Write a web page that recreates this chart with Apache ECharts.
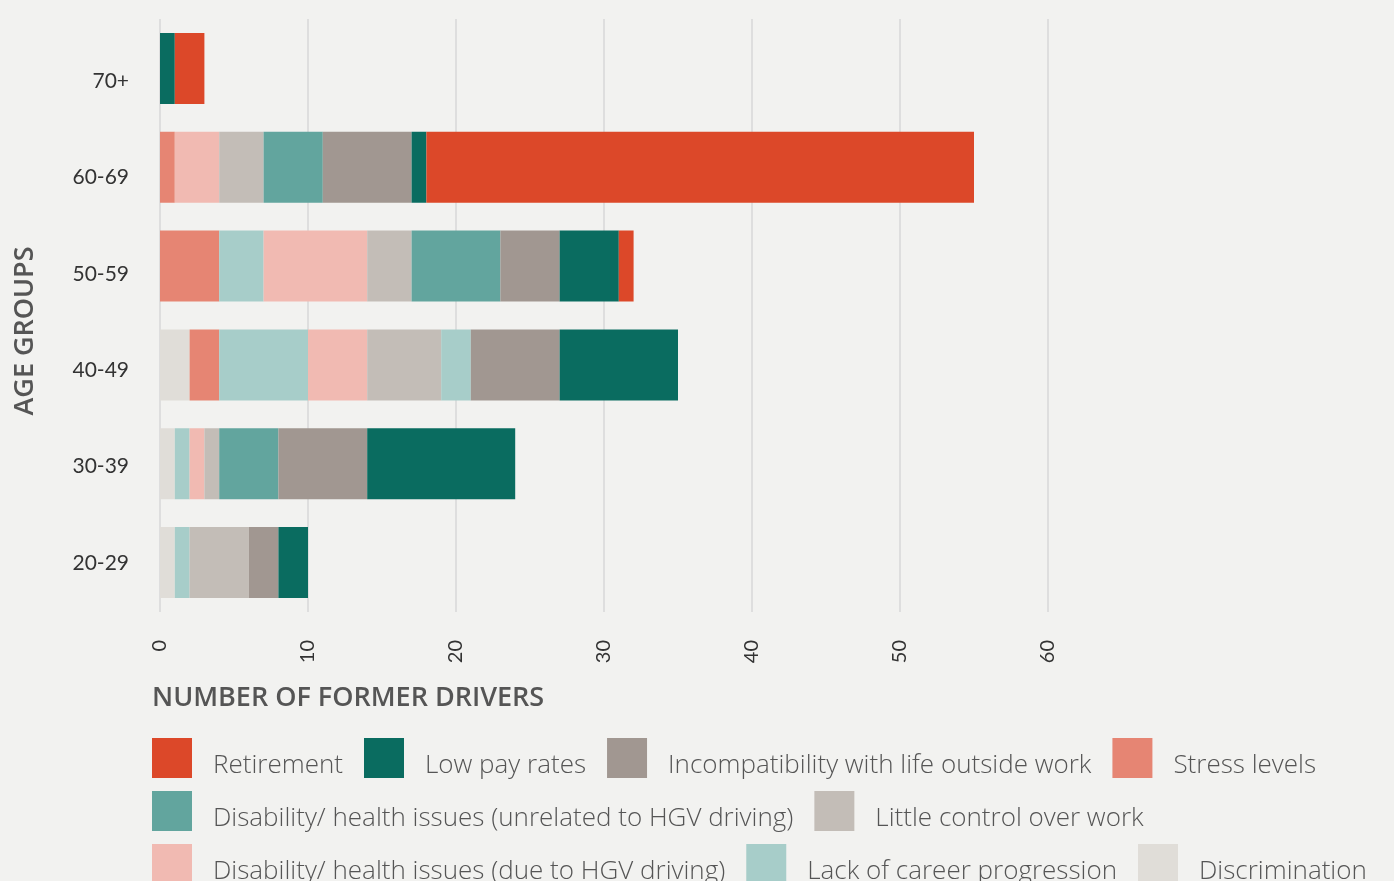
<!DOCTYPE html>
<html>
<head>
<meta charset="utf-8">
<script src="https://cdn.jsdelivr.net/npm/echarts@6/dist/echarts.min.js"></script>
<style>
  html, body { margin: 0; padding: 0; background: #f2f2f0; }
  #chart { width: 1394px; height: 881px; }
</style>
</head>
<body>
<div id="chart"></div>
<script>
    // age groups, bottom to top
    const ageGroups = ['20-29', '30-39', '40-49', '50-59', '60-69', '70+'];

    // values per age group (same order as ageGroups), stacked left to right
    const discrimination = [1, 1, 2, 0, 0, 0];
    const stressLevels = [0, 0, 2, 4, 1, 0];
    const lackOfProgression = [1, 1, 6, 3, 0, 0];
    const disabilityHgv = [0, 1, 4, 7, 3, 0];
    const littleControl = [4, 1, 5, 3, 3, 0];
    const otherReason = [0, 0, 2, 0, 0, 0];
    const disabilityOther = [0, 4, 0, 6, 4, 0];
    const incompatibility = [2, 6, 6, 4, 6, 0];
    const lowPay = [2, 10, 8, 4, 1, 1];
    const retirement = [0, 0, 0, 1, 37, 2];

    const xTicks = [0, 10, 20, 30, 40, 50, 60];

    const labelFont = 'Lato, sans-serif';
    const textFont = '"Open Sans", sans-serif';

    function bar(name, data, color) {
        return {
            name: name,
            type: 'bar',
            stack: 'total',
            barWidth: 71,
            itemStyle: { color: color },
            data: data
        };
    }

    function legendRow(top, names) {
        return {
            left: 152,
            top: top,
            padding: 0,
            orient: 'horizontal',
            icon: 'rect',
            itemWidth: 40,
            itemHeight: 40,
            itemGap: 21,
            selectedMode: false,
            formatter: '{t|{name}}',
            textStyle: {
                fontFamily: textFont,
                fontSize: 26,
                fontWeight: 300,
                color: '#555',
                padding: [0, 0, 0, 16],
                rich: {
                    t: {
                        fontFamily: textFont,
                        fontSize: 26,
                        fontWeight: 300,
                        color: '#555',
                        lineHeight: 42,
                        verticalAlign: 'bottom'
                    }
                }
            },
            data: names
        };
    }

    const option = {
        backgroundColor: '#f2f2f0',
        animation: false,
        title: {
            text: 'NUMBER OF FORMER DRIVERS',
            left: 147,
            top: 680,
            textStyle: {
                fontFamily: textFont,
                fontSize: 27,
                fontWeight: 600,
                color: '#555'
            }
        },
        graphic: [{
            type: 'text',
            x: 25,
            y: 331,
            rotation: Math.PI / 2,
            style: {
                text: 'AGE GROUPS',
                align: 'center',
                verticalAlign: 'middle',
                fontFamily: textFont,
                fontSize: 27,
                fontWeight: 600,
                fill: '#555'
            }
        }],
        legend: [
            legendRow(738, ['Retirement', 'Low pay rates', 'Incompatibility with life outside work', 'Stress levels']),
            legendRow(791, ['Disability/ health issues (unrelated to HGV driving)', 'Little control over work']),
            legendRow(844, ['Disability/ health issues (due to HGV driving)', 'Lack of career progression', 'Discrimination'])
        ],
        grid: [
            { left: 160, right: 346, top: 19, bottom: 269 },
            // labels sit slightly lower than the bars in the original
            { left: 160, right: 346, top: 33, bottom: 270 }
        ],
        xAxis: [{
            type: 'value',
            gridIndex: 0,
            min: 0,
            max: 60,
            interval: 10,
            axisLine: { show: false },
            axisTick: { show: false },
            splitLine: { lineStyle: { color: '#dedede', width: 2 } },
            axisLabel: {
                rotate: 90,
                margin: 28,
                fontFamily: labelFont,
                fontSize: 20,
                color: '#333',
                formatter: function (v) {
                    return xTicks.indexOf(v) >= 0 ? String(v) : '';
                }
            }
        }, {
            type: 'value',
            gridIndex: 1,
            min: 0,
            max: 60,
            show: false
        }],
        yAxis: [{
            type: 'category',
            gridIndex: 0,
            data: ageGroups,
            axisLine: { show: false },
            axisTick: { show: false },
            axisLabel: { show: false }
        }, {
            type: 'category',
            gridIndex: 1,
            data: ageGroups,
            axisLine: { show: false },
            axisTick: { show: false },
            splitLine: { show: false },
            axisLabel: {
                margin: 31,
                fontFamily: labelFont,
                fontSize: 21,
                color: '#333'
            }
        }],
        series: [
            bar('Discrimination', discrimination, '#e0ddd8'),
            bar('Stress levels', stressLevels, '#e68573'),
            bar('Lack of career progression', lackOfProgression, '#a7cdc9'),
            bar('Disability/ health issues (due to HGV driving)', disabilityHgv, '#f1bab2'),
            bar('Little control over work', littleControl, '#c3bdb7'),
            bar('Other', otherReason, '#a7cdc9'),
            bar('Disability/ health issues (unrelated to HGV driving)', disabilityOther, '#62a59e'),
            bar('Incompatibility with life outside work', incompatibility, '#a19791'),
            bar('Low pay rates', lowPay, '#0a6c60'),
            bar('Retirement', retirement, '#dc4829')
        ]
    };

    const chart = echarts.init(document.getElementById('chart'));
    chart.setOption(option);

    window.addEventListener('resize', function () {
        chart.resize();
    });
</script>
</body>
</html>
